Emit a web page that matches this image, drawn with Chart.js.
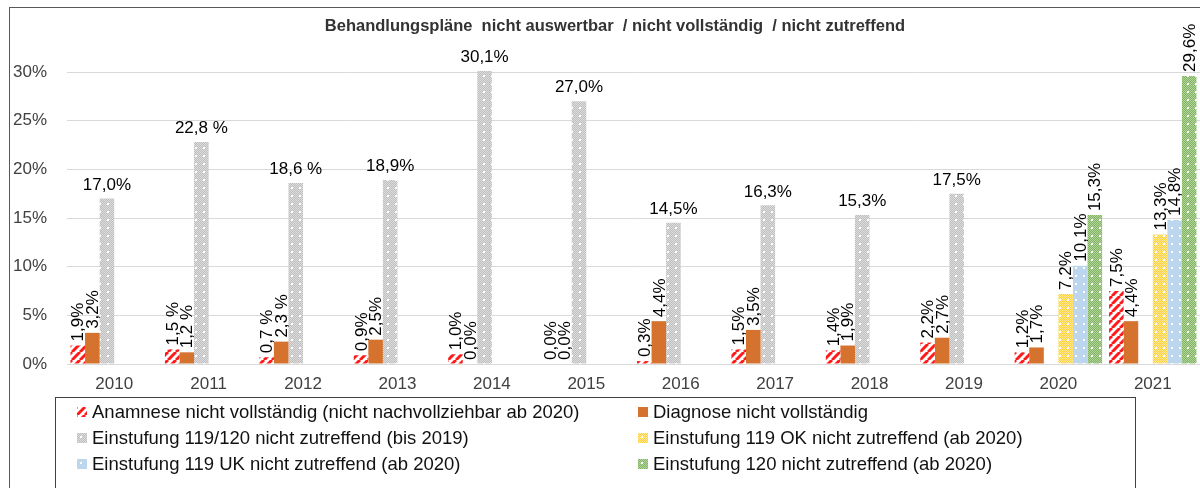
<!DOCTYPE html>
<html>
<head>
<meta charset="utf-8">
<script src="https://cdn.jsdelivr.net/npm/chart.js@4.4.1/dist/chart.umd.min.js"></script>
<style>
  html, body { margin: 0; padding: 0; background: #fff; }
  #wrap { position: relative; width: 1200px; height: 488px; overflow: hidden; font-family: "Liberation Sans", Arial, sans-serif; }
  #frame { position: absolute; left: 9px; top: 7px; width: 1400px; height: 700px; border: 1px solid #595959; }
  #chart { position: absolute; left: 0; top: 0; }
  #legend { position: absolute; left: 55px; top: 397px; width: 1081px; height: 120px; border: 1px solid #404040; box-sizing: border-box; }
  .item { position: absolute; display: flex; align-items: center; font-size: 18.5px; color: #111; white-space: nowrap; }
  .item canvas { width: 10px; height: 10px; margin-right: 5px; }
</style>
</head>
<body>
<div id="wrap">
  <div id="frame"></div>
  <canvas id="chart" width="1200" height="488"></canvas>
  <div id="legend"></div>
</div>
<script>
// Chart data
const years = ['2010', '2011', '2012', '2013', '2014', '2015', '2016', '2017', '2018', '2019', '2020', '2021'];
const anamnese = [1.9, 1.5, 0.7, 0.9, 1.0, 0.0, 0.3, 1.5, 1.4, 2.2, 1.2, 7.5];
const diagnose = [3.2, 1.2, 2.3, 2.5, 0.0, 0.0, 4.4, 3.5, 1.9, 2.7, 1.7, 4.4];
const einstufung119120 = [17.0, 22.8, 18.6, 18.9, 30.1, 27.0, 14.5, 16.3, 15.3, 17.5, null, null];
const einstufung119OK = [null, null, null, null, null, null, null, null, null, null, 7.2, 13.3];
const einstufung119UK = [null, null, null, null, null, null, null, null, null, null, 10.1, 14.8];
const einstufung120 = [null, null, null, null, null, null, null, null, null, null, 15.3, 29.6];
const yTicks = [0, 5, 10, 15, 20, 25, 30];
// the labels in these years were written with a space before the %
const spacedLabelYears = ['2011', '2012'];

const seriesNames = [
  'Anamnese nicht vollständig (nicht nachvollziehbar ab 2020)',
  'Diagnose nicht vollständig',
  'Einstufung 119/120 nicht zutreffend (bis 2019)',
  'Einstufung 119 OK nicht zutreffend (ab 2020)',
  'Einstufung 119 UK nicht zutreffend (ab 2020)',
  'Einstufung 120 nicht zutreffend (ab 2020)'
];

const FONT = '"Liberation Sans", Arial, sans-serif';

// Utility: build a small repeating pattern
function makePattern(size, draw) {
  const c = document.createElement('canvas');
  c.width = size; c.height = size;
  const g = c.getContext('2d');
  draw(g, size);
  return document.createElement('canvas').getContext('2d').createPattern(c, 'repeat');
}

function checker(g, size, a, b) {
  for (let y = 0; y < size; y++) {
    for (let x = 0; x < size; x++) {
      g.fillStyle = (x + y) % 2 ? a : b;
      g.fillRect(x, y, 1, 1);
    }
  }
}

const stripeRed = makePattern(8, (g, s) => {
  g.fillStyle = '#fff'; g.fillRect(0, 0, s, s);
  g.strokeStyle = '#ff1a1a'; g.lineWidth = 3;
  for (let k = -s; k <= s * 2; k += s) {
    g.beginPath(); g.moveTo(k, s); g.lineTo(k + s, 0); g.stroke();
  }
});
const dotsGray = makePattern(8, (g, s) => {
  checker(g, s, '#bdbdbd', '#dedede');
  g.fillStyle = '#fff'; g.fillRect(3, 3, 2, 2);
});
const dotsYellow = makePattern(8, (g, s) => {
  checker(g, s, '#ffd23c', '#ffe89a');
  g.fillStyle = '#fff'; g.fillRect(3, 3, 2, 2);
});
const dotsBlue = makePattern(8, (g, s) => {
  g.fillStyle = '#bcd6ee'; g.fillRect(0, 0, s, s);
  g.fillStyle = '#fff'; g.fillRect(3, 3, 2, 2);
});
const dotsGreen = makePattern(8, (g, s) => {
  checker(g, s, '#82b562', '#b2d49c');
  g.fillStyle = '#fff'; g.fillRect(3, 3, 2, 2);
});

const fills = [stripeRed, '#d4722e', dotsGray, dotsYellow, dotsBlue, dotsGreen];
const seriesData = [anamnese, diagnose, einstufung119120, einstufung119OK, einstufung119UK, einstufung120];

function fmt(v, year) {
  const s = v.toFixed(1).replace('.', ',');
  return spacedLabelYears.includes(year) ? s + ' %' : s + '%';
}

// Data labels: grey series horizontal, all others rotated
const valueLabels = {
  id: 'valueLabels',
  afterDatasetsDraw(chart) {
    const { ctx } = chart;
    ctx.save();
    ctx.font = '17px ' + FONT;
    ctx.fillStyle = '#000';
    chart.data.datasets.forEach((ds, di) => {
      chart.getDatasetMeta(di).data.forEach((bar, i) => {
        const v = ds.data[i];
        if (v === null || v === undefined) return;
        const text = fmt(v, years[i]);
        if (di === 2) {
          ctx.textAlign = 'center';
          ctx.textBaseline = 'bottom';
          ctx.fillText(text, bar.x, bar.y - 5);
        } else {
          ctx.save();
          ctx.translate(bar.x + 1, bar.y - 4);
          ctx.rotate(-Math.PI / 2);
          ctx.textAlign = 'left';
          ctx.textBaseline = 'middle';
          ctx.fillText(text, 0, 0);
          ctx.restore();
        }
      });
    });
    ctx.restore();
  }
};

const chartTitle = {
  id: 'chartTitle',
  afterDraw(chart) {
    const { ctx } = chart;
    ctx.save();
    ctx.font = 'bold 16.5px ' + FONT;
    ctx.fillStyle = '#333';
    ctx.textAlign = 'center';
    ctx.textBaseline = 'middle';
    ctx.fillText('Behandlungspläne  nicht auswertbar  / nicht vollständig  / nicht zutreffend', 615, 26);
    ctx.restore();
  }
};

Chart.defaults.font.family = FONT;
Chart.defaults.font.size = 17;

const myChart = new Chart(document.getElementById('chart').getContext('2d'), {
  type: 'bar',
  data: {
    labels: years,
    datasets: seriesData.map((d, i) => ({
      label: seriesNames[i],
      data: d,
      backgroundColor: fills[i],
      borderWidth: 0,
      clip: false
    }))
  },
  options: {
    responsive: false,
    animation: false,
    layout: { padding: { left: 13, right: 0, top: 72, bottom: 94 } },
    datasets: { bar: { categoryPercentage: 0.926, barPercentage: 1 } },
    plugins: { legend: { display: false }, tooltip: { enabled: false } },
    scales: {
      x: {
        grid: { display: false, drawTicks: false },
        border: { display: false },
        ticks: { padding: 10, color: '#404040' },
        afterFit: (axis) => { axis.height = 30; }
      },
      y: {
        min: 0, max: 30,
        afterBuildTicks: (axis) => { axis.ticks = yTicks.map(v => ({ value: v })); },
        ticks: { padding: 20, color: '#404040', callback: (v) => v + '%' },
        grid: { color: '#d9d9d9', drawTicks: false },
        border: { display: false },
        afterFit: (axis) => { axis.width = 54; }
      }
    }
  },
  plugins: [valueLabels, chartTitle]
});

// Legend, two columns
const legendEl = document.getElementById('legend');
seriesNames.forEach((name, i) => {
  const item = document.createElement('div');
  item.className = 'item';
  item.style.left = (i % 2 === 0 ? 21 : 582) + 'px';
  item.style.top = (3 + Math.floor(i / 2) * 26) + 'px';
  const sw = document.createElement('canvas');
  sw.width = 10; sw.height = 10;
  const g = sw.getContext('2d');
  g.fillStyle = fills[i];
  g.fillRect(0, 0, 10, 10);
  item.appendChild(sw);
  const span = document.createElement('span');
  span.textContent = name;
  item.appendChild(span);
  legendEl.appendChild(item);
});
</script>
</body>
</html>
